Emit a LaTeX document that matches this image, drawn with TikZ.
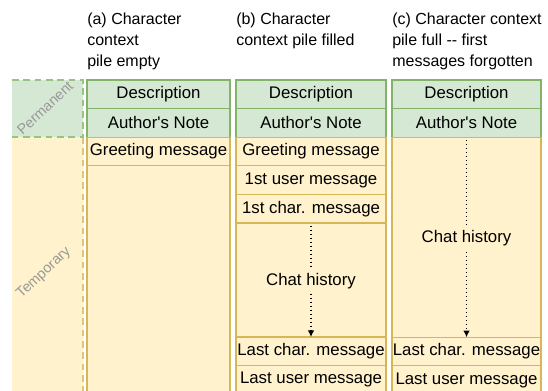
\documentclass[tikz,border=0pt]{standalone}
\usepackage{fontspec}
\setmainfont{Liberation Sans}
\usetikzlibrary{positioning,arrows.meta}

\definecolor{permfill}{HTML}{D5E8D4}
\definecolor{permline}{HTML}{82B366}
\definecolor{tempfill}{HTML}{FFF2CC}
\definecolor{templine}{HTML}{D6B656}
\definecolor{zonetext}{HTML}{999999}

\tikzset{
  cell/.style={rectangle, inner sep=0pt, outer sep=0pt, line width=0.8pt,
    minimum height=21.45pt, font=\fontsize{12.6}{15}\selectfont},
  perm/.style={cell, draw=permline, fill=permfill},
  temp/.style={cell, draw=templine, fill=tempfill},
  cola/.style={minimum width=107.25pt},
  colb/.style={minimum width=112.5pt},
  colc/.style={minimum width=111.75pt},
  header/.style={anchor=north west, inner sep=0pt, align=left,
    font=\fontsize{12}{15.75}\selectfont},
  zone/.style={rectangle, inner sep=0pt, outer sep=0pt, anchor=north west,
    minimum width=53.25pt},
  zonelabel/.style={text=zonetext, rotate=43, font=\fontsize{10.8}{12}\selectfont},
  zonedash/.style={line width=0.8pt, dash pattern=on 5pt off 3.5pt},
  history/.style={line width=0.9pt, dash pattern=on 0.9pt off 2.1pt,
    -{Latex[length=5pt,width=5pt]}},
}

\begin{document}
\begin{tikzpicture}[x=0.75pt, y=-0.75pt]
\useasboundingbox (0,0) rectangle (548,390);

% Zones
  \node[zone, fill=permfill, minimum height=42.75pt] (permzone) at (12,80) {};
  \node[zone, fill=tempfill, below=0pt of permzone, minimum height=193.5pt] (tempzone) {};
  \draw[zonedash, draw=templine!80] (tempzone.north east) -- (tempzone.south east);
  \draw[zonedash, draw=permline!80] (permzone.north west) -- (permzone.north east)
    -- (permzone.south east) -- (permzone.south west);
  \node[zonelabel] (permlabel) at (45,108) {Permanent};
  \node[zonelabel] (templabel) at (44,273) {Temporary};

% Headers
  \node[header] (heada) at (87,13) {(a) Character\\context\\pile empty};
  \node[header] (headb) at (236,13) {(b) Character\\context pile filled};
  \node[header] (headc) at (392,13) {(c) Character context\\pile full -{}- first\\messages forgotten};

% Column (a)
  \node[perm, cola, anchor=north west] (desca) at (87,80) {Description};
  \node[perm, cola, below=0pt of desca] (notea) {Author\textquotesingle s Note};
  \node[temp, cola, below=0pt of notea] (greeta) {Greeting message};
  \node[temp, cola, below=0pt of greeta, minimum height=171.75pt] (resta) {};

% Column (b)
  \node[perm, colb, anchor=north west] (descb) at (236,80) {Description};
  \node[perm, colb, below=0pt of descb] (noteb) {Author\textquotesingle s Note};
  \node[temp, colb, below=0pt of noteb] (greetb) {Greeting message};
  \node[temp, colb, below=0pt of greetb] (userb) {1st user message};
  \node[temp, colb, below=0pt of userb] (charb) {1st char. message};
  \node[temp, colb, below=0pt of charb, minimum height=85.5pt] (histb) {};
  \node[temp, colb, below=0pt of histb] (lastcharb) {Last char. message};
  \node[temp, colb, below=0pt of lastcharb] (lastuserb) {Last user message};

% Column (c)
  \node[perm, colc, anchor=north west] (descc) at (392,80) {Description};
  \node[perm, colc, below=0pt of descc] (notec) {Author\textquotesingle s Note};
  \node[temp, colc, below=0pt of notec, minimum height=150pt] (histc) {};
  \node[temp, colc, below=0pt of histc] (lastcharc) {Last char. message};
  \node[temp, colc, below=0pt of lastcharc] (lastuserc) {Last user message};

% Chat history
  \draw[history] ([yshift=-2pt]histb.north) -- node[cell, fill=tempfill, inner sep=1pt, minimum height=18pt] {Chat history} (histb.south);
  \draw[history] ([yshift=-2pt]histc.north) -- node[cell, fill=tempfill, inner sep=1pt, minimum height=18pt] {Chat history} (histc.south);

\end{tikzpicture}
\end{document}
